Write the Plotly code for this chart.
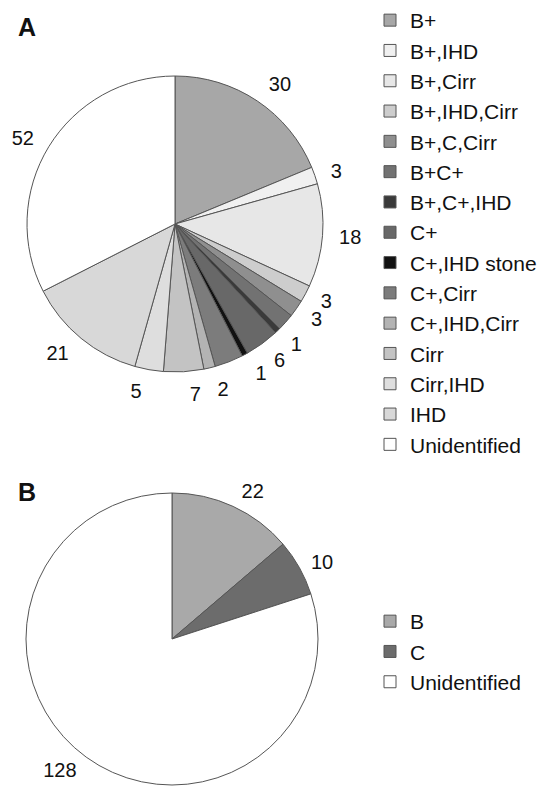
import plotly.graph_objects as go

# ---- Panel A data ----
cats_a = ["B+", "B+,IHD", "B+,Cirr", "B+,IHD,Cirr", "B+,C,Cirr", "B+C+", "B+,C+,IHD",
          "C+", "C+,IHD stone", "C+,Cirr", "C+,IHD,Cirr", "Cirr", "Cirr,IHD", "IHD", "Unidentified"]
vals_a = [30, 3, 18, 3, 3, 3, 1, 6, 1, 5, 2, 7, 5, 21, 52]
text_a = ["30", "3", "18", "3", "3", "", "1", "6", "1", "", "2", "7", "5", "21", "52"]
colors_a = ["#a7a7a7", "#f0f0f0", "#e7e7e7", "#cdcdcd", "#8f8f8f", "#727272", "#3a3a3a",
            "#686868", "#111111", "#7c7c7c", "#b3b3b3", "#c3c3c3", "#dedede", "#d8d8d8", "#ffffff"]

# ---- Panel B data ----
cats_b = ["B", "C", "Unidentified "]
vals_b = [22, 10, 128]
text_b = ["22", "10", "128"]
colors_b = ["#a9a9a9", "#6c6c6c", "#ffffff"]

W, H = 547, 792
FONT = "Arial, Liberation Sans, Helvetica, sans-serif"
LINE = "#555555"


def dom(cx, cy, r):
    return dict(x=[(cx - r) / W, (cx + r) / W],
                y=[max(0.0, (H - (cy + r)) / H), min(1.0, (H - (cy - r)) / H)])


def split_labels(texts, n):
    """Spread the printed labels over n overlay traces so neighbours never collide."""
    groups = [[""] * len(texts) for _ in range(n)]
    k = 0
    for i, t in enumerate(texts):
        if t:
            groups[k % n][i] = t
            k += 1
    return groups


fig = go.Figure()

# Panel A pie
CA = (175, 224, 148)
fig.add_trace(go.Pie(
    labels=cats_a, values=vals_a, textinfo="none", sort=False,
    direction="clockwise", rotation=0,
    marker=dict(colors=colors_a, line=dict(color=LINE, width=1)),
    domain=dom(*CA), legend="legend", automargin=False,
))
for grp in split_labels(text_a, 4):
    fig.add_trace(go.Pie(
        labels=cats_a, values=vals_a, text=grp, textinfo="text",
        textposition="outside", sort=False, direction="clockwise", rotation=0,
        marker=dict(colors=["rgba(0,0,0,0)"] * len(vals_a), line=dict(width=0)),
        textfont=dict(size=20, color="#111111", family=FONT),
        domain=dom(CA[0], CA[1], CA[2] + 11), showlegend=False,
        hoverinfo="skip", automargin=False,
    ))

# Panel B pie
CB = (172, 639, 146)
fig.add_trace(go.Pie(
    labels=cats_b, values=vals_b, textinfo="none", sort=False,
    direction="clockwise", rotation=0,
    marker=dict(colors=colors_b, line=dict(color=LINE, width=1)),
    domain=dom(*CB), legend="legend2", automargin=False,
))
fig.add_trace(go.Pie(
    labels=cats_b, values=vals_b, text=text_b, textinfo="text",
    textposition="outside", sort=False, direction="clockwise", rotation=0,
    marker=dict(colors=["rgba(0,0,0,0)"] * len(vals_b), line=dict(width=0)),
    textfont=dict(size=20, color="#111111", family=FONT),
    domain=dom(CB[0], CB[1], CB[2] + 7), showlegend=False,
    hoverinfo="skip", automargin=False,
))

fig.update_layout(
    width=W, height=H,
    margin=dict(l=0, r=0, t=0, b=0),
    paper_bgcolor="white", plot_bgcolor="white",
    font=dict(family=FONT, size=20, color="#111111"),
    legend=dict(x=370 / W, y=1.0, xanchor="left", yanchor="top", maxheight=1.0,
                font=dict(size=21, family=FONT, color="#111111"),
                bgcolor="rgba(0,0,0,0)", traceorder="normal"),
    legend2=dict(x=370 / W, y=1 - 601 / H, xanchor="left", yanchor="top",
                 font=dict(size=21, family=FONT, color="#111111"),
                 bgcolor="rgba(0,0,0,0)", traceorder="normal"),
    annotations=[
        dict(text="<b>A</b>", x=16 / W, y=1 - 27 / H, xref="paper", yref="paper",
             xanchor="left", yanchor="middle", showarrow=False,
             font=dict(size=25, family=FONT, color="#111111")),
        dict(text="<b>B</b>", x=16 / W, y=1 - 492 / H, xref="paper", yref="paper",
             xanchor="left", yanchor="middle", showarrow=False,
             font=dict(size=25, family=FONT, color="#111111")),
    ],
)

fig.write_html("out.html", config={"displayModeBar": False},
               post_script="document.body.style.margin='0px';")
